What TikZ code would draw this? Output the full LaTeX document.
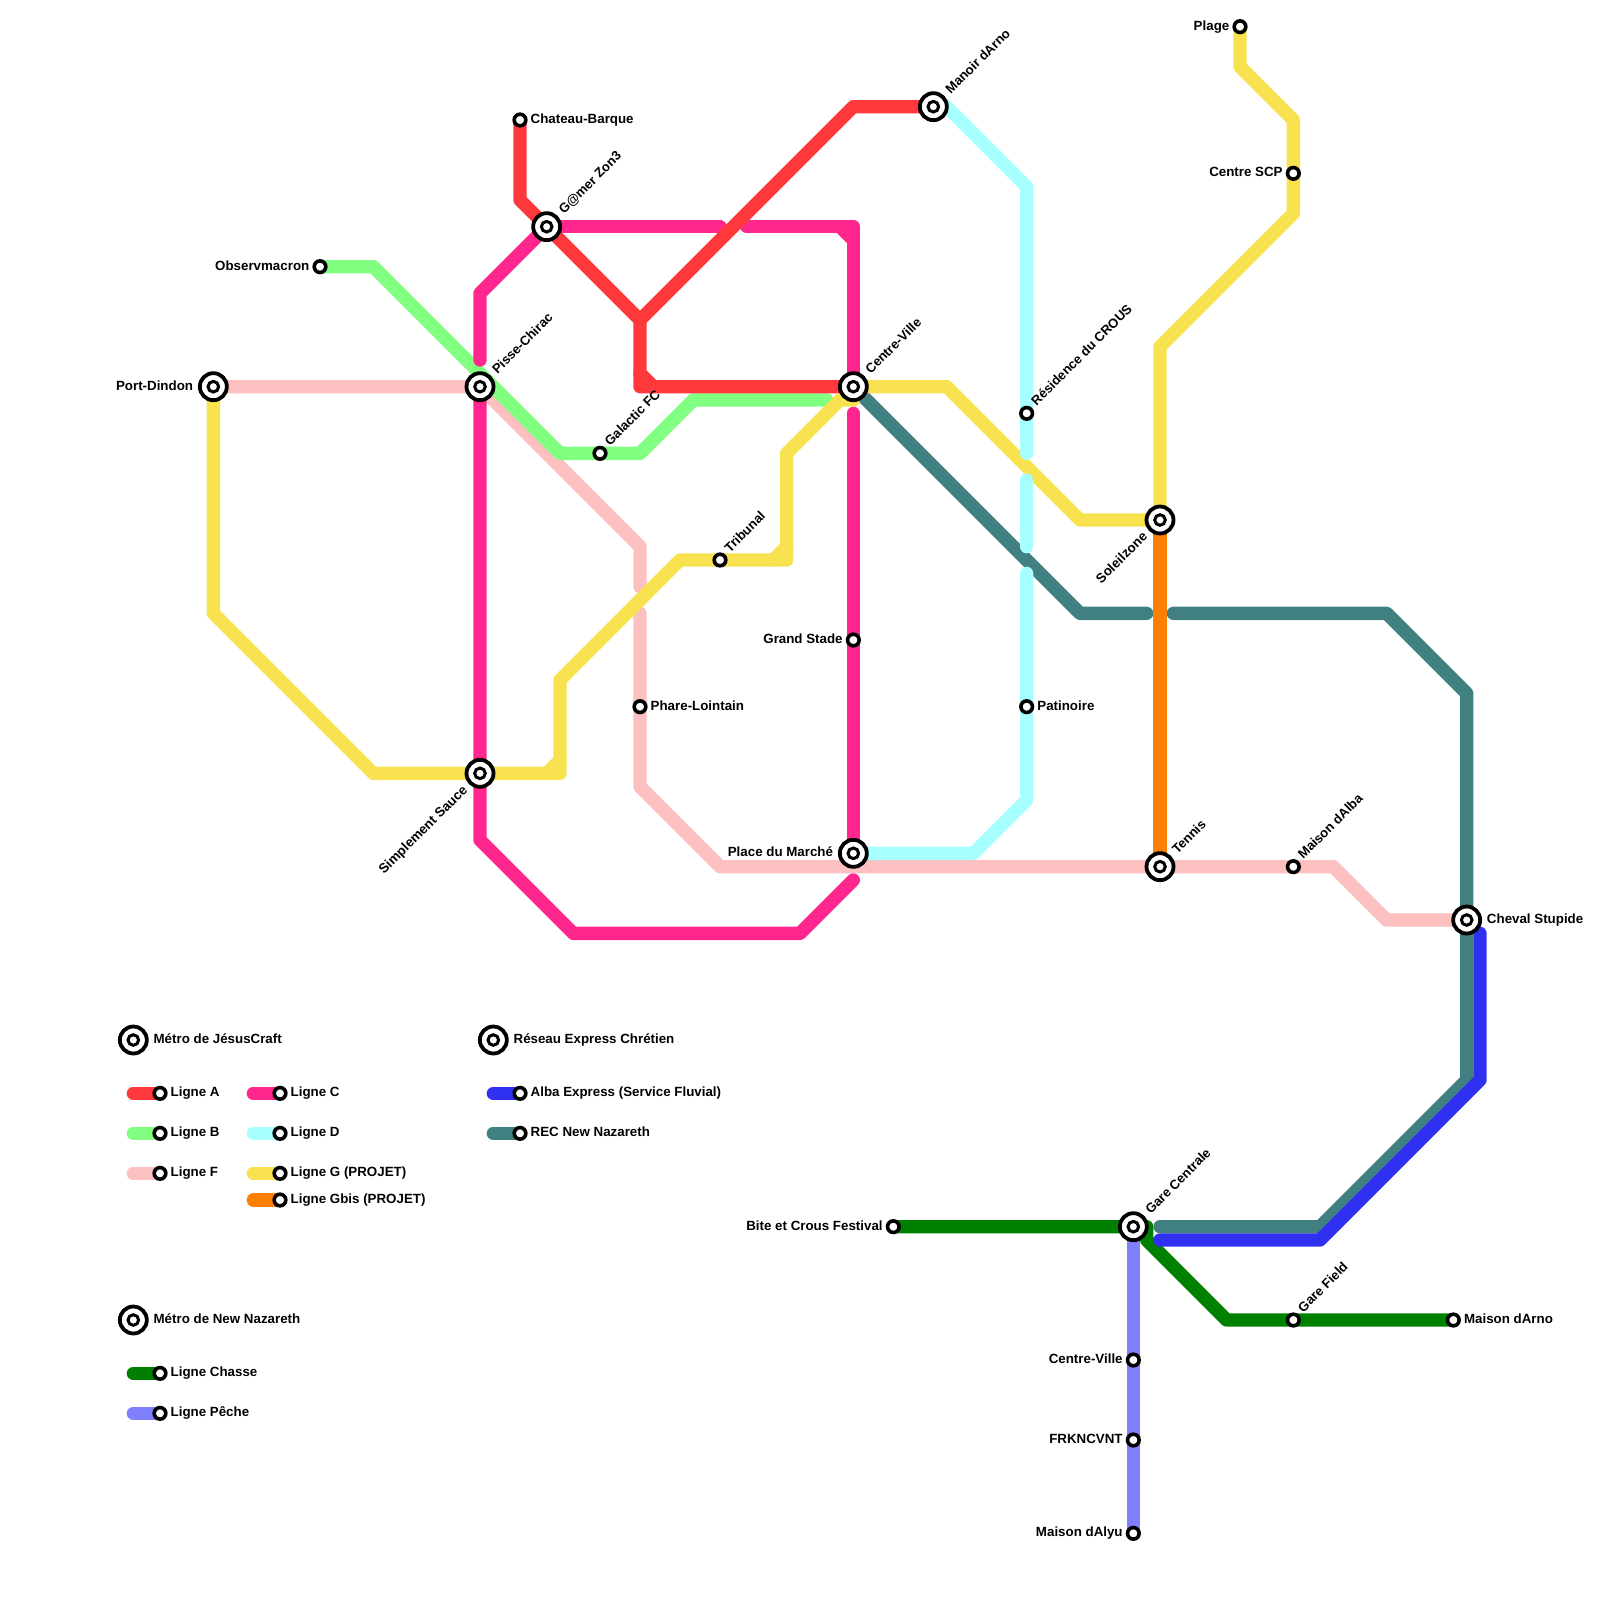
\documentclass[tikz,border=0pt]{standalone}
\usepackage{fontspec}
\setmainfont{Liberation Sans}
\pgfdeclarelayer{lines}
\pgfdeclarelayer{paper}
\pgfsetlayers{paper,lines,main}
\definecolor{cA}{HTML}{FF383C}
\definecolor{cB}{HTML}{80FF80}
\definecolor{cC}{HTML}{FF268E}
\definecolor{cD}{HTML}{A8FFFF}
\definecolor{cF}{HTML}{FCC0C0}
\definecolor{cG}{HTML}{F9E250}
\definecolor{cGb}{HTML}{FF8000}
\definecolor{cAE}{HTML}{3030F0}
\definecolor{cREC}{HTML}{408080}
\definecolor{cCh}{HTML}{008000}
\definecolor{cPe}{HTML}{8080FF}
\tikzset{
  x=13.3333pt,y=-13.3333pt,
  smallst/.style={circle,draw=black,fill=white,line width=3.6pt,minimum size=11.6pt,inner sep=0pt,outer sep=0pt},
  bigst/.style={circle,draw=black,fill=white,line width=3.8pt,minimum size=27pt,inner sep=0pt,outer sep=0pt,
    path picture={\draw[black,line width=3pt] (path picture bounding box.center) circle (5.3pt);}},
  txt/.style={font=\fontsize{13.33}{15}\selectfont\bfseries,inner sep=0pt,outer sep=0pt,text=black},
  rtxt/.style={font=\fontsize{13.1}{15}\selectfont\bfseries,inner sep=0pt,outer sep=0pt,text=black},
  sR/.style={txt,anchor=base west,xshift=10.7pt,yshift=-3.4pt},
  sL/.style={txt,anchor=base east,xshift=-10.7pt,yshift=-3.4pt},
  bR/.style={txt,anchor=base west,xshift=20.3pt,yshift=-3.4pt},
  bL/.style={txt,anchor=base east,xshift=-20.3pt,yshift=-3.4pt},
  sU/.style={rtxt,anchor=base west,xshift=10pt,yshift=7pt,rotate=45},
  bU/.style={rtxt,anchor=base west,xshift=17.5pt,yshift=12pt,rotate=45},
  bD/.style={txt,anchor=base east,xshift=-12pt,yshift=-17.5pt,rotate=45},
  metro/.style={line width=13.3333pt,line cap=round,line join=round},
}
\begin{document}
\begin{tikzpicture}
\useasboundingbox (0,0) rectangle (120,120);
\begin{pgfonlayer}{paper}
\fill[white] (0,0) rectangle (120,120);
\end{pgfonlayer}
% stations
\node[bigst] (port) at (16,29) {};
\node[bigst] (pisse) at (36,29) {};
\node[bigst] (sauce) at (36,58) {};
\node[bigst] (gamer) at (41,17) {};
\node[smallst] (chateau) at (39,9) {};
\node[smallst] (observ) at (24,20) {};
\node[smallst] (galactic) at (45,34) {};
\node[smallst] (tribunal) at (54,42) {};
\node[bigst] (centre) at (64,29) {};
\node[bigst] (manoir) at (70,8) {};
\node[smallst] (stade) at (64,48) {};
\node[smallst] (phare) at (48,53) {};
\node[bigst] (marche) at (64,64) {};
\node[bigst] (tennis) at (87,65) {};
\node[smallst] (crous) at (77,31) {};
\node[smallst] (patinoire) at (77,53) {};
\node[bigst] (soleil) at (87,39) {};
\node[smallst] (plage) at (93,2) {};
\node[smallst] (scp) at (97,13) {};
\node[smallst] (alba) at (97,65) {};
\node[bigst] (cheval) at (110,69) {};
\node[smallst] (bite) at (67,92) {};
\node[bigst] (gare) at (85,92) {};
\node[smallst] (field) at (97,99) {};
\node[smallst] (arno) at (109,99) {};
\node[smallst] (cv2) at (85,102) {};
\node[smallst] (frk) at (85,108) {};
\node[smallst] (alyu) at (85,115) {};
% station labels
\node[bL] (tport) at (port) {Port-Dindon};
\node[bU] (tpisse) at (pisse) {Pisse-Chirac};
\node[bD] (tsauce) at (sauce) {Simplement Sauce};
\node[bU] (tgamer) at (gamer) {G@mer Zon3};
\node[sR] (tchateau) at (chateau) {Chateau-Barque};
\node[sL] (tobserv) at (observ) {Observmacron};
\node[sU] (tgalactic) at (galactic) {Galactic FC};
\node[sU] (ttribunal) at (tribunal) {Tribunal};
\node[bU] (tcentre) at (centre) {Centre-Ville};
\node[bU] (tmanoir) at (manoir) {Manoir dArno};
\node[sL] (tstade) at (stade) {Grand Stade};
\node[sR] (tphare) at (phare) {Phare-Lointain};
\node[bL] (tmarche) at (marche) {Place du Marché};
\node[bU] (ttennis) at (tennis) {Tennis};
\node[sU] (tcrous) at (crous) {Résidence du CROUS};
\node[sR] (tpatinoire) at (patinoire) {Patinoire};
\node[bD] (tsoleil) at (soleil) {Soleilzone};
\node[sL] (tplage) at (plage) {Plage};
\node[sL] (tscp) at (scp) {Centre SCP};
\node[sU] (talba) at (alba) {Maison dAlba};
\node[bR] (tcheval) at (cheval) {Cheval Stupide};
\node[sL] (tbite) at (bite) {Bite et Crous Festival};
\node[bU] (tgare) at (gare) {Gare Centrale};
\node[sU] (tfield) at (field) {Gare Field};
\node[sR] (tarno) at (arno) {Maison dArno};
\node[sL] (tcv2) at (cv2) {Centre-Ville};
\node[sL] (tfrk) at (frk) {FRKNCVNT};
\node[sL] (talyu) at (alyu) {Maison dAlyu};
% legend
\node[bigst] (lgJ) at (10,78) {};
\node[bR] (tlgJ) at (lgJ) {Métro de JésusCraft};
\node[bigst] (lgR) at (37,78) {};
\node[bR] (tlgR) at (lgR) {Réseau Express Chrétien};
\node[bigst] (lgN) at (10,99) {};
\node[bR] (tlgN) at (lgN) {Métro de New Nazareth};
\node[smallst] (kA) at (12,82) {};   \node[sR] (tkA) at (kA) {Ligne A};
\node[smallst] (kB) at (12,85) {};   \node[sR] (tkB) at (kB) {Ligne B};
\node[smallst] (kF) at (12,88) {};   \node[sR] (tkF) at (kF) {Ligne F};
\node[smallst] (kC) at (21,82) {};   \node[sR] (tkC) at (kC) {Ligne C};
\node[smallst] (kD) at (21,85) {};   \node[sR] (tkD) at (kD) {Ligne D};
\node[smallst] (kG) at (21,88) {};   \node[sR] (tkG) at (kG) {Ligne G (PROJET)};
\node[smallst] (kGb) at (21,90) {};  \node[sR] (tkGb) at (kGb) {Ligne Gbis (PROJET)};
\node[smallst] (kAE) at (39,82) {};  \node[sR] (tkAE) at (kAE) {Alba Express (Service Fluvial)};
\node[smallst] (kREC) at (39,85) {}; \node[sR] (tkREC) at (kREC) {REC New Nazareth};
\node[smallst] (kCh) at (12,103) {}; \node[sR] (tkCh) at (kCh) {Ligne Chasse};
\node[smallst] (kPe) at (12,106) {}; \node[sR] (tkPe) at (kPe) {Ligne Pêche};
\coordinate (eA) at (10,82); \coordinate (eB) at (10,85); \coordinate (eF) at (10,88);
\coordinate (eC) at (19,82); \coordinate (eD) at (19,85); \coordinate (eG) at (19,88);
\coordinate (eGb) at (19,90); \coordinate (eAE) at (37,82); \coordinate (eREC) at (37,85);
\coordinate (eCh) at (10,103); \coordinate (ePe) at (10,106);
% free ends of interrupted lines
\coordinate (c1) at (54,17); \coordinate (c2) at (56,17); \coordinate (c3) at (64,31);
\coordinate (c4) at (64,66); \coordinate (c5) at (36,27);
\coordinate (b1) at (62,30);
\coordinate (f1) at (48,44); \coordinate (f2) at (48,46);
\coordinate (d1) at (77,34); \coordinate (d2) at (77,36); \coordinate (d3) at (77,41); \coordinate (d4) at (77,43);
\coordinate (r1) at (86,46); \coordinate (r2) at (88,46); \coordinate (r3) at (87,92);
\coordinate (e1) at (111,70); \coordinate (e2) at (87,93);
\begin{pgfonlayer}{lines}
% Ligne F
\draw[metro,cF] (port.center) -- (pisse.center) -- (48,41) -- (f1);
\draw[metro,cF] (f2) -- (phare.center) -- (48,59) -- (54,65) -- (tennis.center) -- (alba.center) -- (100,65) -- (104,69) -- (cheval.center);
% Ligne B
\draw[metro,cB] (observ.center) -- (28,20) -- (42,34) -- (galactic.center) -- (48,34) -- (52,30) -- (b1);
% Ligne C
\draw[metro,cC] (gamer.center) -- (c1);
\draw[metro,cC] (c2) -- (64,17) -- (centre.center);
\draw[metro,cC] (63,17) -- (64,18);
\draw[metro,cC] (c3) -- (stade.center) -- (marche.center);
\draw[metro,cC] (c4) -- (60,70) -- (43,70) -- (36,63) -- (sauce.center) -- (pisse.center);
\draw[metro,cC] (c5) -- (36,22) -- (gamer.center);
% Ligne A
\draw[metro,cA] (chateau.center) -- (39,15) -- (gamer.center) -- (48,24) -- (48,29) -- (centre.center);
\draw[metro,cA] (48,28) -- (49,29);
\draw[metro,cA] (48,24) -- (64,8) -- (manoir.center);
% REC
\draw[metro,cREC] (centre.center) -- (81,46) -- (r1);
\draw[metro,cREC] (r2) -- (104,46) -- (110,52) -- (cheval.center) -- (110,81) -- (99,92) -- (r3);
% Ligne G
\draw[metro,cG] (plage.center) -- (93,5) -- (97,9) -- (scp.center) -- (97,16) -- (87,26) -- (soleil.center) -- (81,39) -- (71,29) -- (centre.center) -- (64,30) -- (63,30) -- (59,34) -- (59,42) -- (tribunal.center) -- (51,42) -- (42,51) -- (42,58) -- (sauce.center) -- (28,58) -- (16,46) -- (port.center);
\draw[metro,cG] (59,41) -- (58,42);
\draw[metro,cG] (42,57) -- (41,58);
% Ligne D
\draw[metro,cD] (manoir.center) -- (71,8) -- (77,14) -- (crous.center) -- (d1);
\draw[metro,cD] (d2) -- (d3);
\draw[metro,cD] (d4) -- (patinoire.center) -- (77,60) -- (73,64) -- (marche.center);
% Ligne Gbis
\draw[metro,cGb] (soleil.center) -- (tennis.center);
% Chasse, Peche, Alba Express
\draw[metro,cCh] (bite.center) -- (gare.center) -- (86,92) -- (86,93) -- (92,99) -- (field.center) -- (arno.center);
\draw[metro,cPe] (gare.center) -- (cv2.center) -- (frk.center) -- (alyu.center);
\draw[metro,cAE] (e1) -- (111,81) -- (99,93) -- (e2);
% legend lines
\draw[metro,cA] (eA) -- (kA.center);
\draw[metro,cB] (eB) -- (kB.center);
\draw[metro,cF] (eF) -- (kF.center);
\draw[metro,cC] (eC) -- (kC.center);
\draw[metro,cD] (eD) -- (kD.center);
\draw[metro,cG] (eG) -- (kG.center);
\draw[metro,cGb] (eGb) -- (kGb.center);
\draw[metro,cAE] (eAE) -- (kAE.center);
\draw[metro,cREC] (eREC) -- (kREC.center);
\draw[metro,cCh] (eCh) -- (kCh.center);
\draw[metro,cPe] (ePe) -- (kPe.center);
\end{pgfonlayer}
\end{tikzpicture}
\end{document}
